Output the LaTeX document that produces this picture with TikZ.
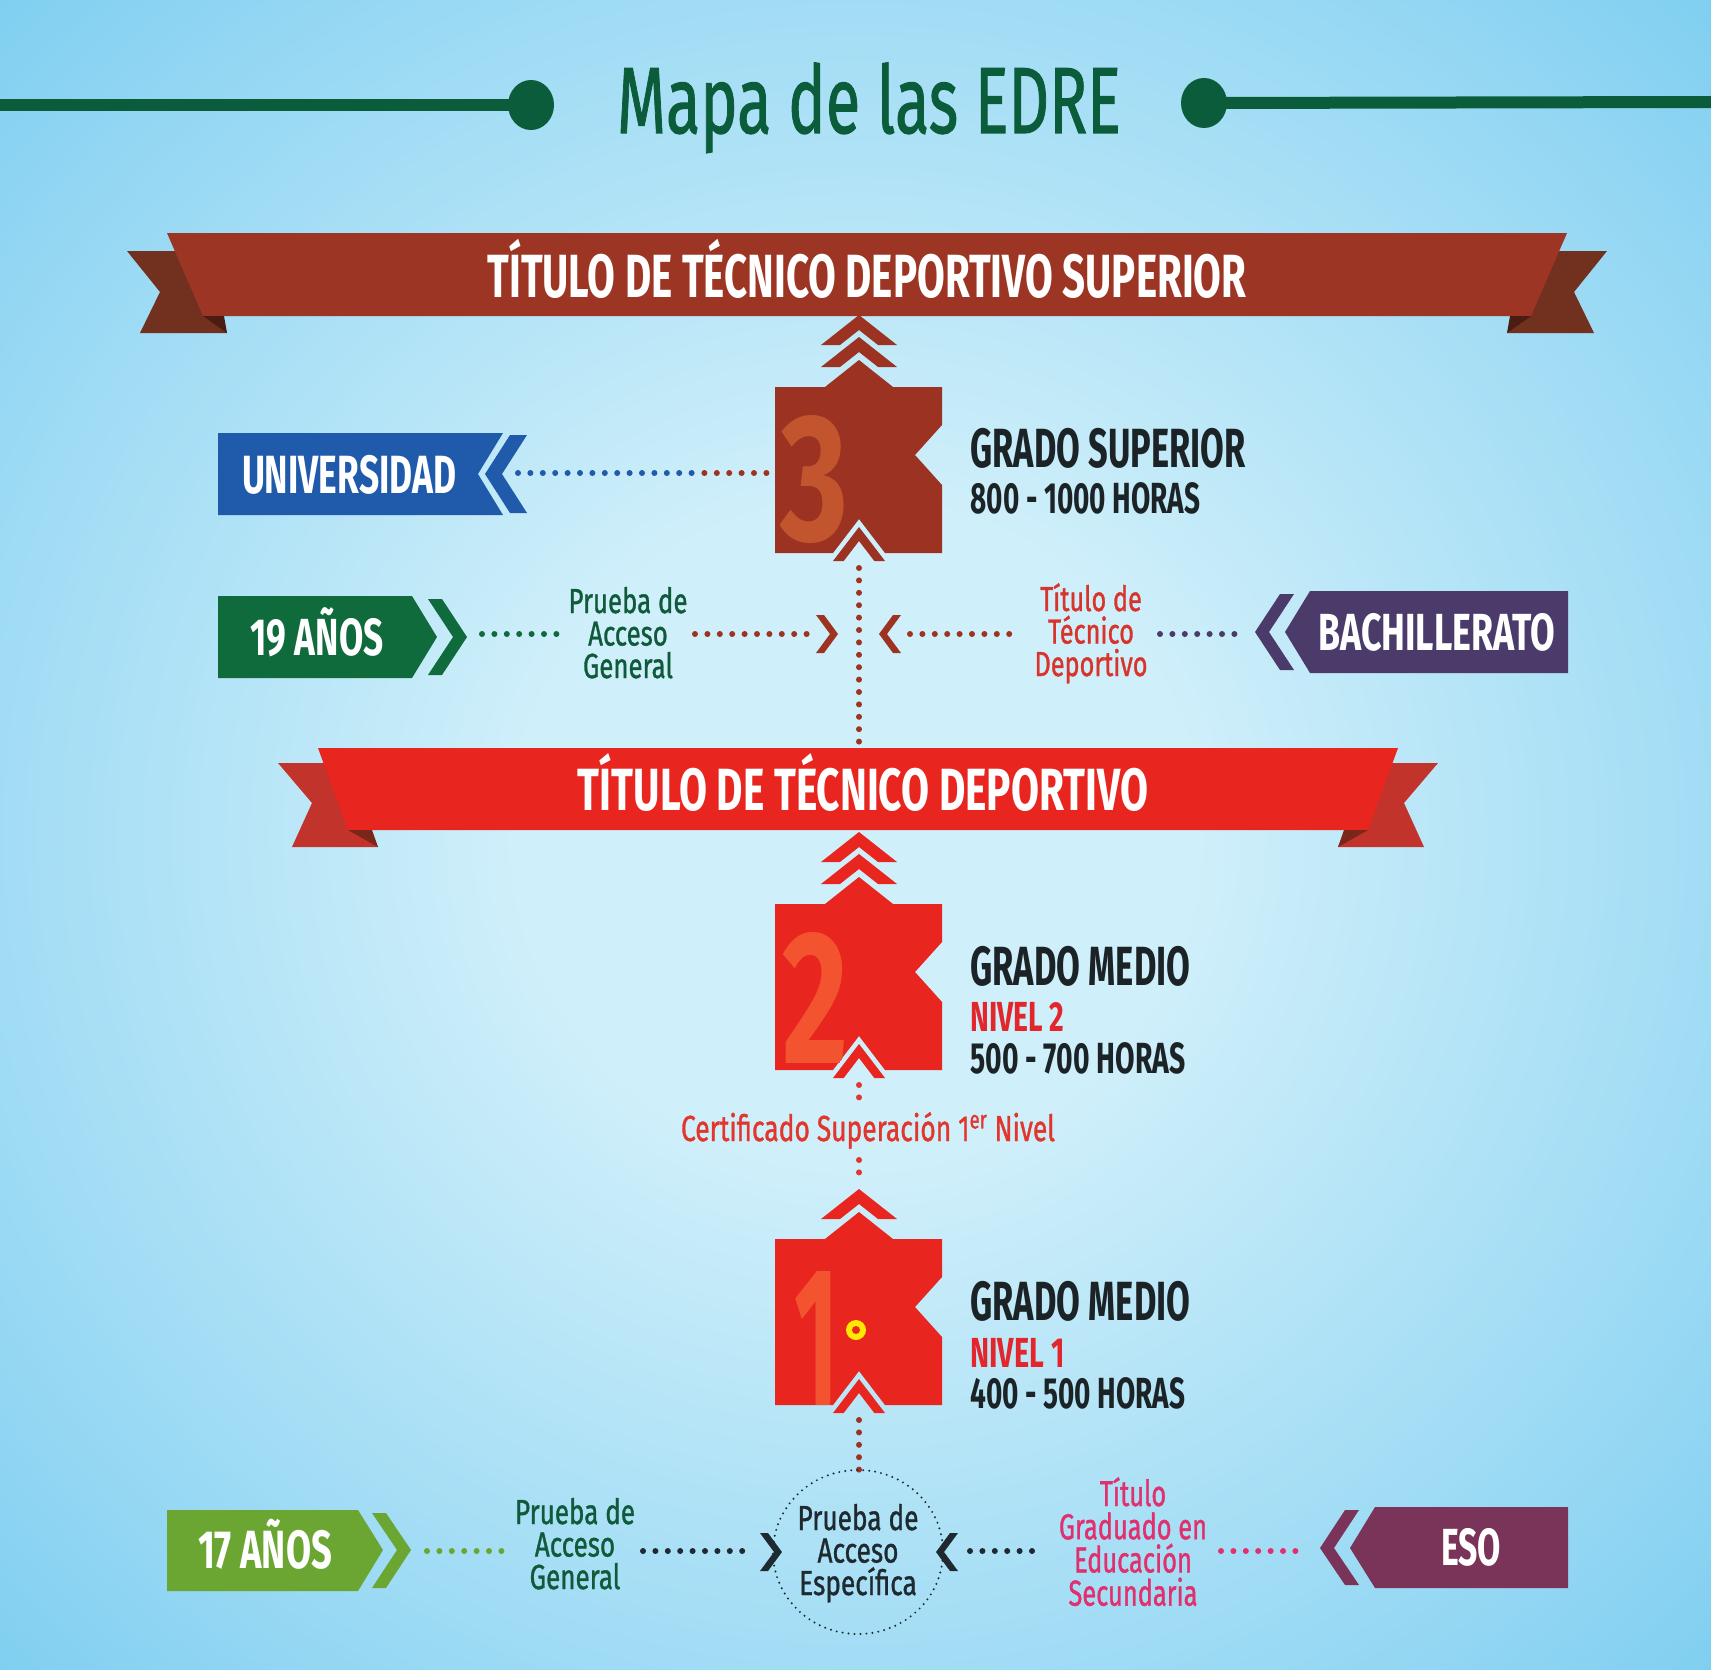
\documentclass[tikz,border=0pt]{standalone}
\usepackage{fontspec}
\setmainfont{Fira Sans}
\newfontfamily\fmed{Fira Sans}[FakeBold=1.2]
\usepackage{graphicx}
\usetikzlibrary{shapes.geometric}

\definecolor{bgA}{HTML}{CFEFFA}
\definecolor{bgB}{HTML}{92D6F3}
\definecolor{bgC}{HTML}{4EBBEB}
\definecolor{bgD}{HTML}{2EA7E2}
\definecolor{tgreen}{HTML}{0B5C3B}
\definecolor{brownband}{HTML}{9C3523}
\definecolor{browntail}{HTML}{72301F}
\definecolor{brownfold}{HTML}{4A1C12}
\definecolor{redband}{HTML}{E8251F}
\definecolor{redtail}{HTML}{C2332B}
\definecolor{redfold}{HTML}{7A2619}
\definecolor{boxbrown}{HTML}{9B3222}
\definecolor{digbrown}{HTML}{C2552E}
\definecolor{boxred}{HTML}{E8261F}
\definecolor{digred}{HTML}{F4532F}
\definecolor{darktxt}{HTML}{1C2326}
\definecolor{nivred}{HTML}{E2262C}
\definecolor{univ}{HTML}{1F5BAA}
\definecolor{green19}{HTML}{0F6A3C}
\definecolor{bach}{HTML}{4B3B6B}
\definecolor{green17}{HTML}{6AA631}
\definecolor{eso}{HTML}{7B3459}
\definecolor{dotbrown}{HTML}{9E3322}
\definecolor{txtred}{HTML}{D9342B}
\definecolor{certred}{HTML}{E2362C}
\definecolor{magtxt}{HTML}{E0306E}
\definecolor{txtgreen}{HTML}{0F5A3A}
\definecolor{dark2}{HTML}{1E2A30}
\definecolor{dotblue}{HTML}{1F5BAA}

\pgfdeclareradialshading{bgshade}{\pgfpoint{0bp}{0bp}}{color(0bp)=(bgA); color(10bp)=(bgA); color(30bp)=(bgB); color(50bp)=(bgC); color(72bp)=(bgD)}

\newcommand\fw[2]{\resizebox{#1}{\height}{#2}}
\newcommand\stk[2]{\vtop{\baselineskip=#1\lineskiplimit=-100pt\lineskip=0pt\halign{\hfil##\hfil\cr#2\crcr}}}
\newcommand\boxpath[1]{(775,#1) -- (825,#1) -- (859,#1-27) -- (893,#1) -- (942,#1) -- (942,#1+38) -- (915,#1+68) -- (942,#1+98) -- (942,#1+166) -- (885,#1+166) -- (859,#1+132) -- (833,#1+166) -- (775,#1+166) -- cycle}
\newcommand\chevup[2]{\fill[#1] (859-38,#2+30) -- (859,#2) -- (859+38,#2+30) -- (859+19,#2+30) -- (859,#2+15) -- (859-19,#2+30) -- cycle;}
\newcommand\chevbot[2]{\fill[#1] (833,#2+174) -- (859,#2+140) -- (885,#2+174) -- (874.3,#2+174) -- (859,#2+154) -- (843.7,#2+174) -- cycle;}

\tikzset{
  lbl/.style={inner sep=0pt, anchor=base},
  lblw/.style={inner sep=0pt, anchor=base west},
  dotl/.style={line width=3pt, line cap=round, dash pattern=on 0pt off 6.2pt},
  dote/.style={line width=1.1pt, line cap=round, dash pattern=on 0pt off 3pt},
}

\begin{document}
\begin{tikzpicture}[x=0.5pt,y=-0.5pt]
\useasboundingbox (0,0) rectangle (1711,1669);
\shade[shading=bgshade] (0,0) rectangle (1711,1669);

% ---------- title ----------
\coordinate (tl0) at (0,105);
\coordinate (tr0) at (1711,102);
\node[ellipse, fill=tgreen, minimum width=23pt, minimum height=25pt, inner sep=0pt] (dotL) at (531,105) {};
\node[ellipse, fill=tgreen, minimum width=23pt, minimum height=25pt, inner sep=0pt] (dotR) at (1204,103) {};
\draw[tgreen, line width=6pt] (tl0) -- (dotL.center);
\draw[tgreen, line width=6pt] (dotR.center) -- (tr0);
\node[lbl, text=tgreen] (title) at (869,133) {\fontsize{47pt}{47pt}\fmed\fw{252pt}{Mapa de las EDRE}};

% ---------- banner 1 ----------
\fill[browntail] (127,251) -- (200,251) -- (227,333) -- (140,333) -- (160,292) -- cycle;
\fill[browntail] (1607,251) -- (1534,251) -- (1507,333) -- (1594,333) -- (1574,292) -- cycle;
\fill[brownband] (167,233) -- (1567,233) -- (1531,316) -- (203,316) -- cycle;
\fill[brownfold] (203,316) -- (224,316) -- (227,333) -- cycle;
\fill[brownfold] (1531,316) -- (1510,316) -- (1507,333) -- cycle;
\node[lbl, text=white] (tds) at (867,297) {\fontsize{30.5pt}{31pt}\selectfont\bfseries\fw{379.5pt}{TÍTULO DE TÉCNICO DEPORTIVO SUPERIOR}};

% ---------- box 3 ----------
\chevup{boxbrown}{315}
\chevup{boxbrown}{337}
\fill[boxbrown] \boxpath{387};
\begin{scope}
  \clip \boxpath{387};
  \node[lbl, text=digbrown] (d3) at (814,540) {\resizebox{34pt}{62.5pt}{\bfseries 3}};
\end{scope}
\chevbot{boxbrown}{387}
\node[lblw, text=darktxt] (gs) at (970,467) {\fontsize{27.6pt}{28pt}\selectfont\bfseries\fw{137.5pt}{GRADO SUPERIOR}};
\node[lblw, text=darktxt] (gsh) at (970,513) {\fontsize{21.8pt}{22pt}\selectfont\bfseries\fw{115pt}{800 - 1000 HORAS}};

% ---------- universidad ----------
\fill[univ] (218,433) -- (503,433) -- (478,474) -- (503,515) -- (218,515) -- cycle;
\fill[univ] (510,435) -- (527,435) -- (502,474) -- (527,513) -- (510,513) -- (485,474) -- cycle;
\node[lbl, text=white] (univ) at (349,493) {\fontsize{26.9pt}{27pt}\selectfont\bfseries\fw{107pt}{UNIVERSIDAD}};
\coordinate (uA) at (518,473);
\coordinate (uB) at (692,473);
\coordinate (uC) at (704.4,473);
\coordinate (uD) at (768,473);
\draw[dotl, dotblue] (uA) -- (uB);
\draw[dotl, dotbrown] (uC) -- (uD);

% ---------- middle row ----------
\fill[green19] (218,596) -- (412,596) -- (437,637) -- (412,678) -- (218,678) -- cycle;
\fill[green19] (428,599) -- (442,599) -- (467,637) -- (442,675) -- (428,675) -- (453,637) -- cycle;
\node[lbl, text=white] (a19) at (317,655) {\fontsize{26.1pt}{27pt}\selectfont\bfseries\fw{66.5pt}{19 AÑOS}};

\fill[bach] (1568,591) -- (1310,591) -- (1285,632) -- (1310,673) -- (1568,673) -- cycle;
\fill[bach] (1294,594) -- (1280,594) -- (1255,632) -- (1280,670) -- (1294,670) -- (1269,632) -- cycle;
\node[lbl, text=white] (bach) at (1437,650) {\fontsize{26.1pt}{27pt}\selectfont\bfseries\fw{118.5pt}{BACHILLERATO}};

\node[lbl, text=txtgreen] (pag1) at (628,613) {\fontsize{17.4pt}{17pt}\fmed\fw{59.5pt}{\stk{16.25pt}{Prueba de\cr Acceso\cr General}}};
\node[lbl, text=txtred] (ttd) at (1091,611) {\fontsize{17.4pt}{17pt}\fmed\fw{56.5pt}{\stk{16.25pt}{Título de\cr Técnico\cr Deportivo}}};

\coordinate (gA) at (482,634);
\coordinate (gB) at (562,634);
\coordinate (bA) at (695,634);
\coordinate (bB) at (808,634);
\coordinate (bC) at (910,634);
\coordinate (bD) at (1021,634);
\coordinate (pA) at (1160,634);
\coordinate (pB) at (1241,634);
\draw[dotl, green19] (gA) -- (gB);
\draw[dotl, dotbrown] (bA) -- (bB);
\draw[dotl, dotbrown] (bC) -- (bD);
\draw[dotl, bach] (pA) -- (pB);
\fill[dotbrown] (816,615) -- (824,615) -- (838,634) -- (824,653) -- (816,653) -- (830,634) -- cycle;
\fill[dotbrown] (901,615) -- (893,615) -- (879,634) -- (893,653) -- (901,653) -- (887,634) -- cycle;

\coordinate (v1a) at (859,568);
\coordinate (v1b) at (859,742);
\draw[dotl, dotbrown] (v1a) -- (v1b);

% ---------- banner 2 ----------
\fill[redtail] (278,763) -- (340,763) -- (378,847) -- (292,847) -- (312,803) -- cycle;
\fill[redtail] (1438,763) -- (1376,763) -- (1338,847) -- (1424,847) -- (1404,803) -- cycle;
\fill[redband] (318,748) -- (1398,748) -- (1368,830) -- (348,830) -- cycle;
\fill[redfold] (348,830) -- (372,830) -- (378,847) -- cycle;
\fill[redfold] (1368,830) -- (1344,830) -- (1338,847) -- cycle;
\node[lbl, text=white] (td) at (863,810) {\fontsize{29.8pt}{30pt}\selectfont\bfseries\fw{285pt}{TÍTULO DE TÉCNICO DEPORTIVO}};

% ---------- box 2 ----------
\chevup{boxred}{832}
\chevup{boxred}{854}
\fill[boxred] \boxpath{904};
\begin{scope}
  \clip \boxpath{904};
  \node[lbl, text=digred] (d2) at (815,1063) {\resizebox{33pt}{65.5pt}{\bfseries 2}};
\end{scope}
\chevbot{boxred}{904}
\node[lblw, text=darktxt] (gm2) at (970,985) {\fontsize{27.6pt}{28pt}\selectfont\bfseries\fw{110pt}{GRADO MEDIO}};
\node[lblw, text=nivred] (n2) at (970,1031) {\fontsize{21pt}{22pt}\selectfont\bfseries\fw{47pt}{NIVEL 2}};
\node[lblw, text=darktxt] (h2) at (970,1073) {\fontsize{21.8pt}{22pt}\selectfont\bfseries\fw{107.5pt}{500 - 700 HORAS}};

\coordinate (v2a) at (859,1085);
\coordinate (v2b) at (859,1100);
\coordinate (v2c) at (859,1160);
\coordinate (v2d) at (859,1176);
\draw[dotl, certred] (v2a) -- (v2b);
\draw[dotl, certred] (v2c) -- (v2d);
\node[lbl, text=certred] (cert) at (868,1141) {\fontsize{18.1pt}{18pt}\fmed\fw{187pt}{Certificado Superación 1\textsuperscript{er} Nivel}};

% ---------- box 1 ----------
\chevup{boxred}{1189}
\fill[boxred] \boxpath{1239};
\begin{scope}
  \clip \boxpath{1239};
  \node[lbl, text=digred] (d1) at (816,1405) {\resizebox{22pt}{67pt}{\bfseries 1}};
\end{scope}
\chevbot{boxred}{1239}
\fill[yellow!90!orange] (856,1330) circle (10);
\fill[boxred] (856,1330) circle (4);
\node[lblw, text=darktxt] (gm1) at (970,1320) {\fontsize{27.6pt}{28pt}\selectfont\bfseries\fw{110pt}{GRADO MEDIO}};
\node[lblw, text=nivred] (n1) at (970,1367) {\fontsize{21pt}{22pt}\selectfont\bfseries\fw{47pt}{NIVEL 1}};
\node[lblw, text=darktxt] (h1) at (970,1408) {\fontsize{21.8pt}{22pt}\selectfont\bfseries\fw{107.5pt}{400 - 500 HORAS}};

\coordinate (v3a) at (859,1420);
\coordinate (v3b) at (859,1472);
\draw[dotl, dotbrown] (v3a) -- (v3b);

% ---------- bottom row ----------
\fill[green17] (167,1510) -- (358,1510) -- (383,1550) -- (358,1591) -- (167,1591) -- cycle;
\fill[green17] (372,1513) -- (386,1513) -- (411,1550) -- (386,1588) -- (372,1588) -- (397,1550) -- cycle;
\node[lbl, text=white] (a17) at (265,1568) {\fontsize{26.9pt}{27pt}\selectfont\bfseries\fw{67pt}{17 AÑOS}};

\fill[eso] (1568,1507) -- (1375,1507) -- (1350,1548) -- (1375,1588) -- (1568,1588) -- cycle;
\fill[eso] (1359,1510) -- (1345,1510) -- (1320,1548) -- (1345,1585) -- (1359,1585) -- (1334,1548) -- cycle;
\node[lbl, text=white] (eso) at (1471,1565) {\fontsize{26.1pt}{27pt}\selectfont\bfseries\fw{30pt}{ESO}};

\node[draw=dark2, dote, ellipse, minimum width=85pt, minimum height=82pt, inner sep=0pt] (ell) at (858,1552) {};
\node[lbl, text=txtgreen] (pag2) at (575,1524) {\fontsize{17.4pt}{17pt}\fmed\fw{60pt}{\stk{16.25pt}{Prueba de\cr Acceso\cr General}}};
\node[lbl, text=dark2] (pae) at (858,1530) {\fontsize{17.4pt}{17pt}\fmed\fw{60.5pt}{\stk{16.25pt}{Prueba de\cr Acceso\cr Específica}}};
\node[lbl, text=magtxt] (tges) at (1133,1506) {\fontsize{18pt}{18pt}\fmed\fw{74pt}{\stk{16.6pt}{Título\cr Graduado en\cr Educación\cr Secundaria}}};

\coordinate (hA) at (427,1551);
\coordinate (hB) at (507,1551);
\coordinate (hC) at (643,1551);
\coordinate (hD) at (744,1551);
\coordinate (hE) at (970,1551);
\coordinate (hF) at (1042,1551);
\coordinate (hG) at (1221,1551);
\coordinate (hH) at (1302,1551);
\draw[dotl, green17] (hA) -- (hB);
\draw[dotl, dark2] (hC) -- (hD);
\draw[dotl, dark2] (hE) -- (hF);
\draw[dotl, magtxt] (hG) -- (hH);
\fill[dark2] (760,1533) -- (768,1533) -- (782,1552) -- (768,1571) -- (760,1571) -- (774,1552) -- cycle;
\fill[dark2] (958,1533) -- (950,1533) -- (936,1552) -- (950,1571) -- (958,1571) -- (944,1552) -- cycle;
\end{tikzpicture}
\end{document}
